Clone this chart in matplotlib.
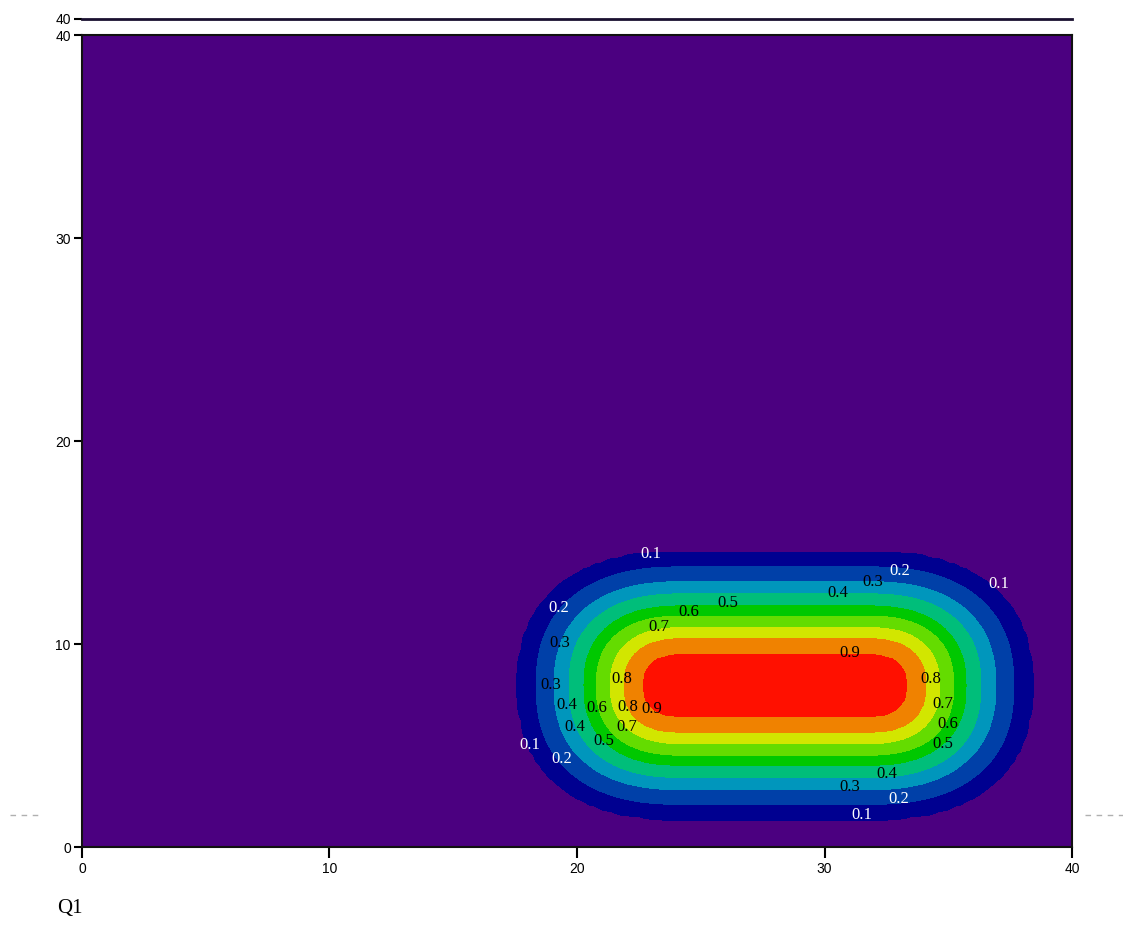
import numpy as np
import matplotlib
matplotlib.use('Agg')
import matplotlib.pyplot as plt
from matplotlib.lines import Line2D

# Contour levels and their colours
levels = [-0.1, 0.1, 0.2, 0.3, 0.4, 0.5, 0.6, 0.7, 0.8, 0.9, 1.1]
band_colors = ['#4b0080', '#000090', '#0040a8', '#0096bc', '#00be7a',
               '#00c800', '#64dc00', '#d2e600', '#f08200', '#ff1000']

# Ridge of the peak: a flat segment along y, and how the value falls off
# with distance from it (distance at which each level is crossed)
ridge_x = [24.2, 31.8]
ridge_y = 7.95
ridge_p = 2.4
profile_dist = [0.0, 1.54, 2.31, 2.85, 3.43, 3.91, 4.52, 5.11, 5.85, 6.56, 9.0]
profile_val = [1.0, 0.9, 0.8, 0.7, 0.6, 0.5, 0.4, 0.3, 0.2, 0.1, 0.0]

# Contour labels as they sit in the picture
label_text = ['0.1', '0.1', '0.1', '0.1',
              '0.2', '0.2', '0.2', '0.2',
              '0.3', '0.3', '0.3', '0.3',
              '0.4', '0.4', '0.4', '0.4',
              '0.5', '0.5', '0.5',
              '0.6', '0.6', '0.6',
              '0.7', '0.7', '0.7',
              '0.8', '0.8', '0.8',
              '0.9', '0.9']
label_x = [23.0, 37.05, 18.1, 31.5,
           33.05, 19.27, 19.4, 33.0,
           31.96, 19.3, 18.95, 31.03,
           30.55, 19.6, 19.9, 32.5,
           26.1, 21.1, 34.8,
           24.5, 20.8, 35.0,
           23.3, 22.0, 34.8,
           21.8, 22.06, 34.3,
           31.03, 23.0]
label_y = [14.43, 12.96, 5.02, 1.58,
           13.6, 11.77, 4.33, 2.36,
           13.05, 10.05, 7.98, 2.96,
           12.51, 7.0, 5.91, 3.6,
           12.02, 5.22, 5.07,
           11.58, 6.85, 6.06,
           10.84, 5.91, 7.04,
           8.28, 6.9, 8.28,
           9.56, 6.8]

# Build the field on the grid
xs = np.arange(0, 40.01, 0.25)
ys = np.arange(0, 40.01, 0.25)
X, Y = np.meshgrid(xs, ys)
dx = np.maximum(np.maximum(ridge_x[0] - X, X - ridge_x[1]), 0)
dy = np.abs(Y - ridge_y)
dist = (dx ** ridge_p + dy ** ridge_p) ** (1.0 / ridge_p)
Z = np.interp(dist, profile_dist, profile_val)

fig = plt.figure(figsize=(11.23, 9.31), dpi=100)
ax = fig.add_axes([0.073, 0.0902, 0.8816, 0.8722])

ax.contourf(X, Y, Z, levels=levels, colors=band_colors)

for t, lx, ly in zip(label_text, label_x, label_y):
    col = 'white' if t in ('0.1', '0.2') else 'black'
    ax.text(lx, ly, t, color=col, fontsize=12, family='Liberation Serif',
            ha='center', va='center')

ax.set_xlim(0, 40)
ax.set_ylim(0, 40)
ax.set_xticks([0, 10, 20, 30, 40])
ax.set_yticks([0, 10, 20, 30, 40])
ax.tick_params(axis='x', direction='out', length=8, width=1.5, labelsize=10, pad=3)
ax.tick_params(axis='y', direction='out', length=6, width=1.5, labelsize=10, pad=2)
for lab in ax.get_xticklabels() + ax.get_yticklabels():
    lab.set_family('Liberation Sans')
for s in ax.spines.values():
    s.set_linewidth(1.5)
    s.set_color('#111111')

# thin strip along the top with its own "40" tick
ax2 = fig.add_axes([0.073, 0.9796, 0.8816, 0.0005])
ax2.set_xlim(0, 40)
ax2.set_ylim(39.99, 40.01)
ax2.set_xticks([])
ax2.set_yticks([40])
ax2.tick_params(axis='y', direction='out', length=6, width=1.5, labelsize=10, pad=2)
for lab in ax2.get_yticklabels():
    lab.set_family('Liberation Sans')
for name, s in ax2.spines.items():
    s.set_visible(name == 'bottom')
ax2.spines['bottom'].set_linewidth(2)
ax2.spines['bottom'].set_color('#1a1030')
ax2.patch.set_visible(False)

# faint dashed marks on both sides
fig.add_artist(Line2D([0.009, 0.038], [0.1246, 0.1246], color='#b0b0b0',
                      lw=1, ls=(0, (4, 4))))
fig.add_artist(Line2D([0.966, 1.0], [0.1246, 0.1246], color='#b0b0b0',
                      lw=1, ls=(0, (4, 4))))

fig.text(0.051, 0.019, 'Q1', fontsize=15, family='Liberation Serif')

fig.savefig('out.png', dpi=100)
